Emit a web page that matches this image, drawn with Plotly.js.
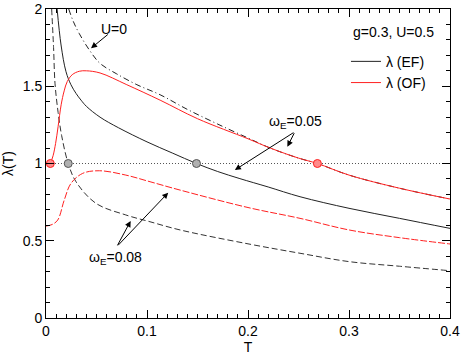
<!DOCTYPE html>
<html>
<head>
<meta charset="utf-8">
<script src="https://cdn.plot.ly/plotly-3.0.1.min.js"></script>
<style>
  html, body { margin: 0; padding: 0; background: #fff; }
  #plot { width: 463px; height: 357px; }
</style>
</head>
<body>
<div id="plot"></div>
<script>
// omega_E = 0.05, lambda (EF), solid black
var efT = [0.011, 0.0149, 0.0198, 0.0247, 0.0297, 0.0347, 0.04, 0.0535, 0.0716, 0.1, 0.125, 0.149, 0.17, 0.192, 0.22, 0.2515, 0.3, 0.35, 0.4];
var efY = [2.0, 1.767, 1.594, 1.51, 1.454, 1.41, 1.37, 1.30, 1.232, 1.14, 1.068, 1.0, 0.948, 0.902, 0.848, 0.785, 0.71, 0.645, 0.58];

// omega_E = 0.05, lambda (OF), solid red
var ofT = [0.0043, 0.007, 0.0095, 0.012, 0.015, 0.018, 0.021, 0.026, 0.033, 0.04, 0.0535, 0.08, 0.113, 0.15, 0.2, 0.222, 0.25, 0.2687, 0.3, 0.35, 0.4];
var ofY = [1.0, 1.05, 1.13, 1.24, 1.38, 1.47, 1.53, 1.575, 1.597, 1.6, 1.586, 1.51, 1.41, 1.29, 1.16, 1.1, 1.035, 1.0, 0.925, 0.84, 0.77];

// U = 0, dash-dot black
var u0T = [0.0225, 0.027, 0.033, 0.0429, 0.0535, 0.07, 0.09, 0.113, 0.14, 0.17, 0.2, 0.222, 0.25, 0.2687, 0.3, 0.35, 0.4];
var u0Y = [2.0, 1.92, 1.84, 1.735, 1.648, 1.58, 1.51, 1.445, 1.35, 1.255, 1.165, 1.1, 1.035, 1.0, 0.925, 0.84, 0.77];

// omega_E = 0.08, lambda (EF), dashed black
var ef8T = [0.0056, 0.0075, 0.0089, 0.012, 0.0155, 0.022, 0.0297, 0.0495, 0.079, 0.103, 0.1327, 0.2, 0.2515, 0.3, 0.35, 0.4];
var ef8Y = [2.0, 1.75, 1.52, 1.33, 1.18, 1.0, 0.882, 0.742, 0.667, 0.623, 0.57, 0.48, 0.419, 0.365, 0.335, 0.306];

// omega_E = 0.08, lambda (OF), dashed red
var of8T = [0.0, 0.006, 0.0116, 0.0181, 0.0248, 0.0363, 0.0528, 0.079, 0.103, 0.1327, 0.2, 0.2515, 0.3, 0.35, 0.4];
var of8Y = [0.595, 0.605, 0.634, 0.764, 0.872, 0.936, 0.953, 0.925, 0.882, 0.828, 0.715, 0.645, 0.57, 0.52, 0.479];

// lambda = 1 crossings
var crossT = [0.0043, 0.022, 0.149, 0.2687];
var crossY = [1, 1, 1, 1];
var crossFill = ['#ff8a8a', '#b0b0b0', '#b0b0b0', '#ff8a8a'];
var crossLine = ['#ff2020', '#555555', '#555555', '#ff2020'];

var unitT = [0, 0.4];
var unitY = [1, 1];

var font = 'Liberation Sans, Arial, sans-serif';

var traces = [
  { x: unitT, y: unitY, mode: 'lines', showlegend: false, hoverinfo: 'skip',
    line: { color: '#555', width: 1, dash: '1px,2px' } },
  { x: u0T, y: u0Y, mode: 'lines', showlegend: false, line: { color: '#222', width: 1, dash: '6px,3px,1px,3px', shape: 'spline' } },
  { x: ef8T, y: ef8Y, mode: 'lines', showlegend: false, line: { color: '#333', width: 1, dash: '6px,3px', shape: 'spline' } },
  { x: of8T, y: of8Y, mode: 'lines', showlegend: false, line: { color: '#ff2020', width: 1, dash: '7px,2px', shape: 'spline' } },
  { x: efT, y: efY, mode: 'lines', name: 'λ (EF)', line: { color: '#222', width: 1, shape: 'spline' } },
  { x: ofT, y: ofY, mode: 'lines', name: 'λ (OF)', line: { color: '#ff2020', width: 1, shape: 'spline' } },
  { x: crossT, y: crossY, mode: 'markers', showlegend: false,
    marker: { size: 8, color: crossFill, line: { color: crossLine, width: 1 } } }
];

function arrow(x, y, ax, ay) {
  return { x: x, y: y, ax: ax, ay: ay, xref: 'x', yref: 'y', axref: 'x', ayref: 'y',
    text: '', showarrow: true, arrowhead: 2, arrowsize: 1.2, arrowwidth: 1, arrowcolor: '#000' };
}

var layout = {
  width: 463, height: 357,
  margin: { l: 46, r: 13, t: 9, b: 39 },
  paper_bgcolor: '#fff', plot_bgcolor: '#fff',
  font: { family: font, size: 14, color: '#000' },
  xaxis: {
    range: [0, 0.4], dtick: 0.1, tickformat: '.1~f',
    showgrid: false, zeroline: false, showline: true, linecolor: '#000', linewidth: 1,
    mirror: 'ticks', ticks: 'inside', ticklen: 8, tickcolor: '#000',
    minor: { dtick: 0.01, ticks: 'inside', ticklen: 4, tickcolor: '#000', showgrid: false },
    title: { text: 'T', font: { size: 14 }, standoff: 4 }
  },
  yaxis: {
    range: [0, 2], dtick: 0.5, tickformat: '~g',
    showgrid: false, zeroline: false, showline: true, linecolor: '#000', linewidth: 1,
    mirror: 'ticks', ticks: 'inside', ticklen: 8, tickcolor: '#000',
    minor: { dtick: 0.1, ticks: 'inside', ticklen: 4, tickcolor: '#000', showgrid: false },
    title: { text: 'λ(T)', font: { size: 14 }, standoff: 8 }
  },
  legend: { x: 0.7425, y: 0.881, xanchor: 'left', yanchor: 'top', bgcolor: 'rgba(0,0,0,0)',
    font: { size: 14 } },
  annotations: [
    { x: 0.965, y: 0.925, xref: 'paper', yref: 'paper', xanchor: 'right', yanchor: 'middle', text: 'g=0.3, U=0.5', showarrow: false },
    { x: 0.0673, y: 1.87, xref: 'x', yref: 'y', text: 'U=0', showarrow: false },
    arrow(0.0446, 1.746, 0.0627, 1.843),
    { x: 0.2475, y: 1.27, xref: 'x', yref: 'y', text: 'ω<sub>E</sub>=0.05', showarrow: false },
    arrow(0.187, 0.958, 0.2465, 1.206),
    arrow(0.239, 1.109, 0.2465, 1.206),
    { x: 0.0693, y: 0.388, xref: 'x', yref: 'y', text: 'ω<sub>E</sub>=0.08', showarrow: false },
    arrow(0.0838, 0.628, 0.07, 0.461),
    arrow(0.121, 0.811, 0.07, 0.461)
  ]
};

Plotly.newPlot('plot', traces, layout, { displayModeBar: false, staticPlot: true });
</script>
</body>
</html>
